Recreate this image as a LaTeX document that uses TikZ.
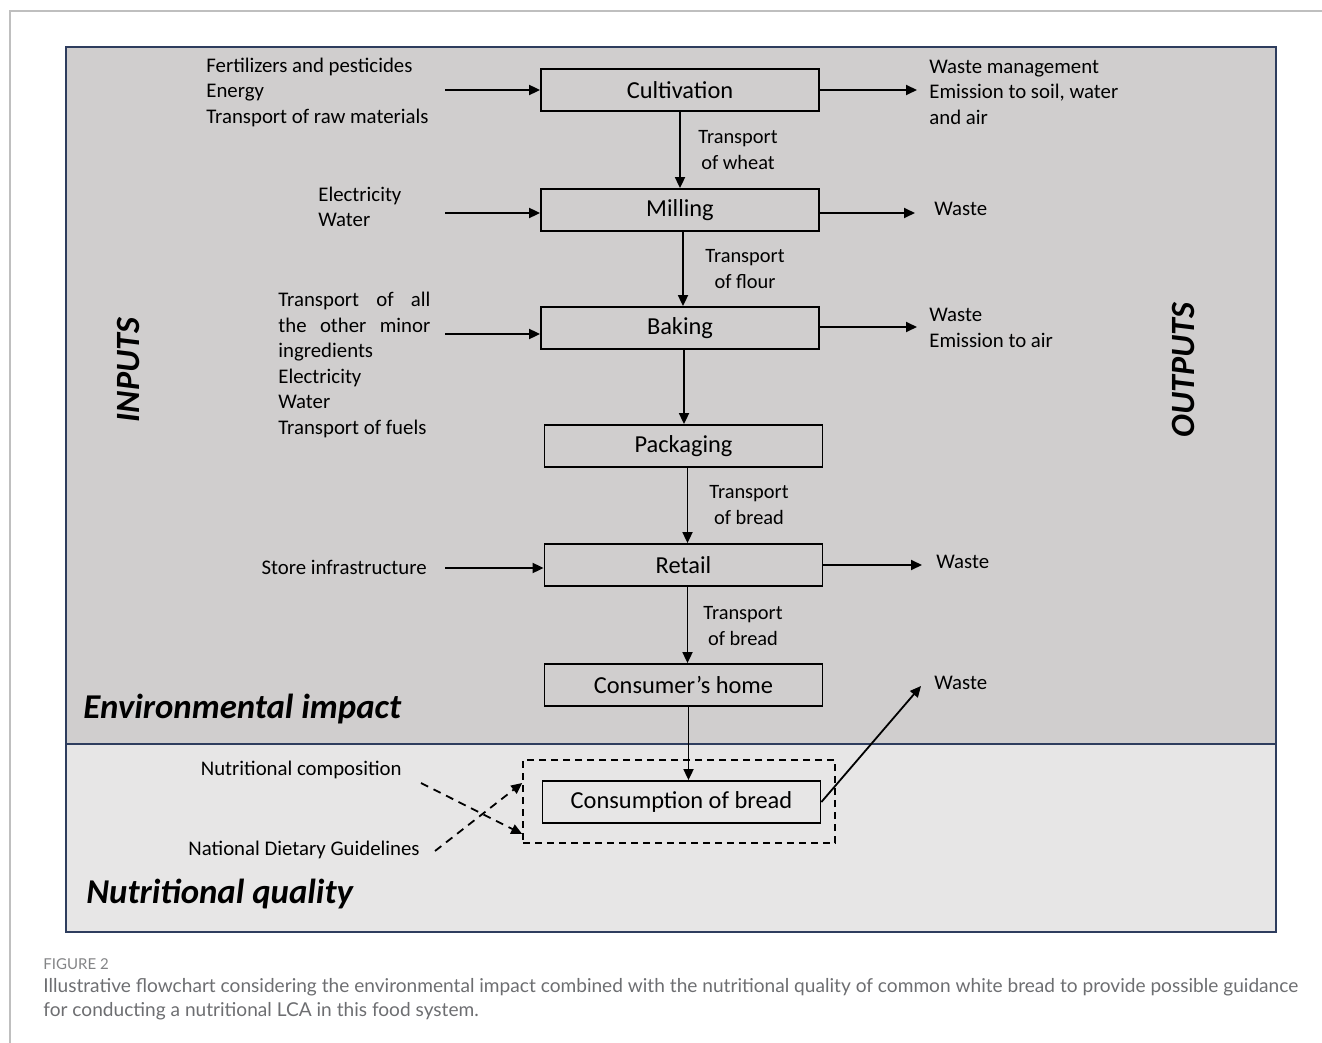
\documentclass[tikz,border=0pt]{standalone}
\usepackage{fontspec}
\setmainfont{Carlito}
\newfontfamily\capfont{Lato}
\usetikzlibrary{arrows.meta,calc}
\definecolor{envgray}{HTML}{D0CECE}
\definecolor{nutgray}{HTML}{E7E6E6}
\definecolor{navy}{HTML}{2E3D5E}
\definecolor{capgray}{HTML}{6D6E71}
\tikzset{
  stage/.style={draw,line width=0.9pt,minimum width=139pt,minimum height=21pt,inner sep=0pt,font=\fontsize{12.2}{14}\selectfont},
  txt/.style={inner sep=0pt,align=left,font=\fontsize{10.4}{12.75}\selectfont},
  lbl/.style={inner sep=0pt,align=center,font=\fontsize{10.2}{12.75}\selectfont},
  flow/.style={line width=0.9pt,-{Triangle[length=5.5pt,width=5pt]}},
  guide/.style={line width=0.9pt,dash pattern=on 4pt off 3pt,-{Triangle[length=5.5pt,width=5pt]}},
  zonebox/.style={draw,line width=0.8pt,dash pattern=on 3.5pt off 2.5pt,minimum width=156pt,minimum height=41.5pt,inner sep=0pt},
  title/.style={inner sep=0pt,font=\fontsize{17.4}{19}\selectfont\bfseries\itshape},
  side/.style={inner sep=0pt,rotate=90,font=\fontsize{17}{18}\selectfont\bfseries\itshape}
}
\begin{document}
\begin{tikzpicture}[x=0.5pt,y=-0.5pt]
  \useasboundingbox (0,0) rectangle (1322,1043);
  % frame and panels
  \draw[gray!50,line width=0.6pt] (10,1043) -- (10,11) -- (1322,11);
  \fill[envgray] (66,47) rectangle (1276,744);
  \fill[nutgray] (66,744) rectangle (1276,932);
  \draw[navy,line width=0.6pt] (66,744) -- (1276,744);
  \draw[navy,line width=1.3pt] (66,47) rectangle (1276,932);

  % stages
  \node[stage] (cult) at (680,90) {Cultivation};
  \node[stage] (mill) at (680,210) {Milling};
  \node[stage] (bake) at (680,328) {Baking};
  \node[stage] (pack) at (683.5,446) {Packaging};
  \node[stage] (retail) at (683.5,565) {Retail};
  \node[stage] (home) at (683.5,685) {Consumer’s home};
  \node[zonebox] (zone) at (679,801.5) {};
  \node[stage] (eat) at (681.5,802) {Consumption of bread};

  \draw[flow] (cult.south) -- (cult.south |- mill.north);
  \draw[flow] ([xshift=1.5pt]mill.south) -- ([xshift=1.5pt]mill.south |- bake.north);
  \draw[flow] ([xshift=2pt]bake.south) -- ([xshift=2pt]bake.south |- pack.north);
  \draw[flow] ([xshift=2pt]pack.south) -- ([xshift=2pt]pack.south |- retail.north);
  \draw[flow] ([xshift=2pt]retail.south) -- ([xshift=2pt]retail.south |- home.north);
  \draw[flow] ([xshift=2.5pt]home.south) -- ([xshift=2.5pt]home.south |- eat.north);

  \node[lbl] (wheat) at (738,150) {Transport\\of wheat};
  \node[lbl] (flour) at (745,269) {Transport\\of flour};
  \node[lbl] (bread1) at (749,505) {Transport\\of bread};
  \node[lbl] (bread2) at (743,626) {Transport\\of bread};

  % inputs
  \node[txt,anchor=west] (incult) at (206,92) {Fertilizers and pesticides\\Energy\\Transport of raw materials};
  \node[txt,anchor=west] (inmill) at (318,207) {Electricity\\Water};
  \node[txt,anchor=west] (inbake) at (278,365) {\makebox[76pt][s]{Transport of all}\\\makebox[76pt][s]{the other minor}\\ingredients\\Electricity\\Water\\Transport of fuels};
  \node[txt,anchor=east] (inretail) at (427,567) {Store infrastructure};
  \coordinate (a1) at (445,90);
  \coordinate (a2) at (445,213);
  \coordinate (a3) at (445,334);
  \coordinate (a4) at (445,568);
  \draw[flow] (a1) -- (a1 -| cult.west);
  \draw[flow] (a2) -- (a2 -| mill.west);
  \draw[flow] (a3) -- (a3 -| bake.west);
  \draw[flow] (a4) -- (a4 -| retail.west);

  % outputs
  \node[txt,anchor=west] (outcult) at (929,92) {Waste management\\Emission to soil, water\\and air};
  \node[txt,anchor=west] (outmill) at (934,209) {Waste};
  \node[txt,anchor=west] (outbake) at (929,328) {Waste\\Emission to air};
  \node[txt,anchor=west] (outretail) at (936,562) {Waste};
  \node[txt,anchor=west] (outeat) at (934,683) {Waste};
  \coordinate (b1) at (917,90);
  \coordinate (b2) at (915,213);
  \coordinate (b3) at (917,327);
  \coordinate (b4) at (922,565);
  \coordinate (b5) at (921,686);
  \draw[flow] (b1 -| cult.east) -- (b1);
  \draw[flow] (b2 -| mill.east) -- (b2);
  \draw[flow] (b3 -| bake.east) -- (b3);
  \draw[flow] (b4 -| retail.east) -- (b4);
  \draw[flow] (eat.east) -- (b5);

  % nutrition
  \node[txt,anchor=east] (comp) at (402,770) {Nutritional composition};
  \node[txt,anchor=east] (ndg) at (420,850) {National Dietary Guidelines};
  \coordinate (c1) at (421,783);
  \coordinate (c2) at (435,851);
  \draw[guide] (c1) -- ([yshift=-16.25pt]zone.west);
  \draw[guide] (c2) -- ([yshift=9.25pt]zone.west);

  % titles
  \node[title,anchor=west] (envt) at (83,709) {Environmental impact};
  \node[title,anchor=west] (nutt) at (86,894) {Nutritional quality};
  \node[side] (inputs) at (128,370) {INPUTS};
  \node[side] (outputs) at (1183,370) {OUTPUTS};

  % caption
  \node[inner sep=0pt,anchor=west,text=capgray!85,font=\capfont\fontsize{7.5}{9}\selectfont] (fig) at (43,964) {FIGURE 2};
  \node[inner sep=0pt,anchor=west,align=left,text=capgray,font=\capfont\fontsize{9.55}{12}\selectfont] (cap) at (43,999) {Illustrative flowchart considering the environmental impact combined with the nutritional quality of common white bread to provide possible guidance\\for conducting a nutritional LCA in this food system.};
\end{tikzpicture}
\end{document}
